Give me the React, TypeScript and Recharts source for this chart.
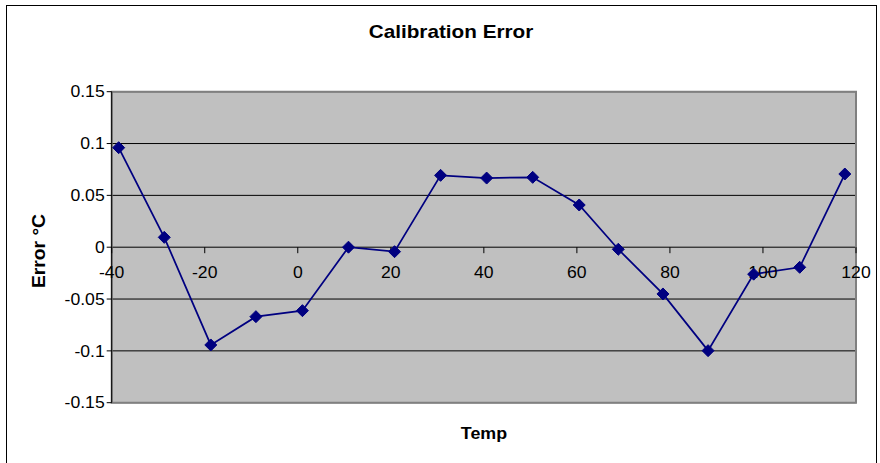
import React from 'react';
import { LineChart, Line, XAxis, YAxis, CartesianGrid, ReferenceArea, ReferenceDot } from 'recharts';

const temps = [-38.5, -28.7, -18.7, -9.0, 1.0, 10.9, 20.8, 30.7, 40.6, 50.5, 60.5, 68.9, 78.5, 88.2, 98.0, 107.9, 117.6];
const errors = [0.096, 0.0095, -0.0943, -0.067, -0.0612, 0.0, -0.0043, 0.0693, 0.0667, 0.0674, 0.0407, -0.002, -0.0451, -0.0998, -0.026, -0.0194, 0.0706];
const xTicks = [-40, -20, 0, 20, 40, 60, 80, 100, 120];
const yTicks = [-0.15, -0.1, -0.05, 0, 0.05, 0.1, 0.15];
const yTickLabels = ['-0.15', '-0.1', '-0.05', '0', '0.05', '0.1', '0.15'];

const data = temps.map((t, i) => ({ temp: t, err: errors[i] }));

const FONT = '"Liberation Sans", Arial, sans-serif';
const NAVY = '#000080';
const SX = 1.1;

const Diamond = (props: any) => {
  const { cx, cy } = props;
  if (cx == null || cy == null) return null;
  const s = 6;
  return (
    <polygon
      points={`${cx},${cy - s} ${cx + s},${cy} ${cx},${cy + s} ${cx - s},${cy}`}
      fill={NAVY}
      stroke={NAVY}
      strokeWidth={1}
    />
  );
};

const makeTick = (label: string) => (p: any) => {
  const { cx, cy } = p;
  const ty = cy + 31;
  return (
    <g>
      <line x1={cx} y1={cy} x2={cx} y2={cy + 6} stroke="#000" strokeWidth={1} />
      <text
        x={cx}
        y={ty}
        textAnchor="middle"
        fontSize={16}
        fontFamily={FONT}
        fill="#000"
        transform={`translate(${cx},${ty}) scale(${SX},1) translate(${-cx},${-ty})`}
      >
        {label}
      </text>
    </g>
  );
};

const YTick = (p: any) => {
  const { x, y, payload } = p;
  const label = yTickLabels[yTicks.indexOf(payload.value)] ?? String(payload.value);
  return (
    <text
      x={x}
      y={y}
      dy="0.36em"
      textAnchor="end"
      fontSize={16}
      fontFamily={FONT}
      fill="#000"
      transform={`translate(${x},${y}) scale(${SX},1) translate(${-x},${-y})`}
    >
      {label}
    </text>
  );
};

export default function App() {
  return (
    <div style={{ position: 'absolute', left: 0, top: 0, width: 880, height: 463, overflow: 'hidden', background: '#fff' }}>
      <div style={{ position: 'absolute', left: 6, top: 5, width: 871, height: 480, border: '1px solid #000', boxSizing: 'border-box' }} />
      <div style={{ position: 'absolute', left: 0, top: 0 }}>
        <LineChart width={880} height={463} data={data} margin={{ top: 91.7, right: 24, bottom: 60.3, left: 51.7 }}>
          <CartesianGrid vertical={false} stroke="#000" fill="#C0C0C0" fillOpacity={1} />
          <XAxis dataKey="temp" type="number" domain={[-40, 120]} ticks={xTicks} hide />
          <YAxis
            type="number"
            domain={[-0.15, 0.15]}
            ticks={yTicks}
            interval={0}
            width={60}
            tickSize={5}
            tick={<YTick />}
            axisLine={{ stroke: '#000' }}
            tickLine={{ stroke: '#000' }}
          />
          <ReferenceArea x1={-40} x2={120} y1={-0.15} y2={0.15} fill="none" stroke="#808080" strokeWidth={2} ifOverflow="visible" />
          {xTicks.map((t) => (
            <ReferenceDot key={t} x={t} y={0} r={0} ifOverflow="visible" shape={makeTick(String(t))} />
          ))}
          <Line
            type="linear"
            dataKey="err"
            stroke={NAVY}
            strokeWidth={1.75}
            dot={<Diamond />}
            activeDot={false}
            isAnimationActive={false}
          />
        </LineChart>
      </div>
      <div style={{ position: 'absolute', left: 451, top: 32, transform: 'translate(-50%, -50%) scaleX(1.09)', fontFamily: FONT, fontWeight: 'bold', fontSize: 19, whiteSpace: 'nowrap' }}>
        Calibration Error
      </div>
      <div style={{ position: 'absolute', left: 484, top: 434, transform: 'translate(-50%, -50%) scaleX(1.05)', fontFamily: FONT, fontWeight: 'bold', fontSize: 17, whiteSpace: 'nowrap' }}>
        Temp
      </div>
      <div style={{ position: 'absolute', left: 39, top: 251, transform: 'translate(-50%, -50%) rotate(-90deg) scaleX(1.07)', fontFamily: FONT, fontWeight: 'bold', fontSize: 18, whiteSpace: 'nowrap' }}>
        Error °C
      </div>
    </div>
  );
}
